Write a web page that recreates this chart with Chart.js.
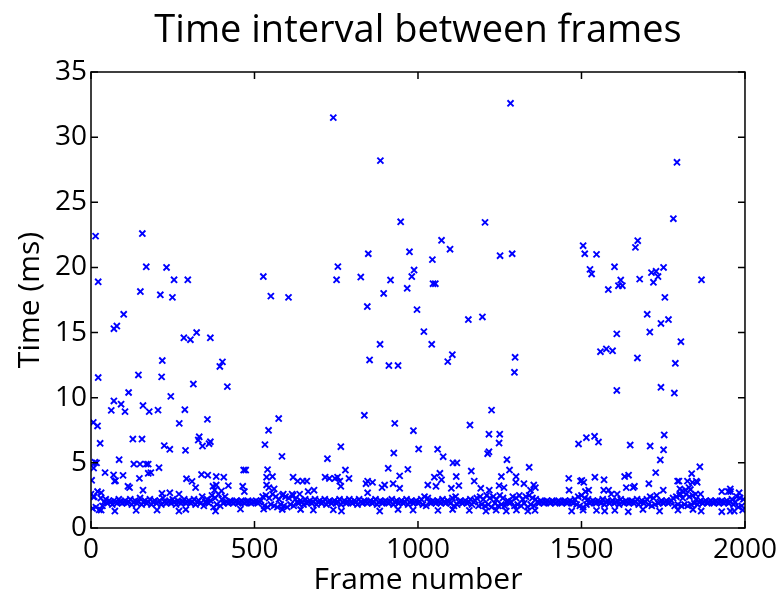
<!DOCTYPE html>
<html lang="en">
<head>
  <meta charset="UTF-8" />
  <title>Time interval between frames</title>
  <script src="https://cdn.jsdelivr.net/npm/chart.js"></script>
  <style>
    html, body { margin: 0; padding: 0; background: #fff; }
  </style>
</head>
<body>
  <canvas id="frameChart" width="782" height="598"></canvas>

  <script>
    // axis setup
    const chartTitle = 'Time interval between frames';
    const xTicks = [0, 500, 1000, 1500, 2000];
    const yTicks = [0, 5, 10, 15, 20, 25, 30, 35];

    // large spikes [frame, ms]
    const spikes = [
      [14,22.4],[157,22.6],[169,20.05],[231,20.0],[22,18.9],[254,19.05],[296,19.05],[151,18.15],[212,17.9],[249,17.7],
      [527,19.3],[550,17.8],[604,17.7],[100,16.4],[70,15.3],[79,15.5],[284,14.6],[304,14.45],[323,15.0],[365,14.6],
      [218,12.85],[402,12.75],[394,12.4],[22,11.55],[145,11.75],[216,11.6],[313,11.05],[417,10.85],[115,10.4],[244,10.1],
      [70,9.75],[92,9.5],[62,9.03],[104,8.93],[159,9.4],[178,8.93],[205,9.05],[287,9.08],[356,8.34],[7,8.1],
      [20,7.83],[270,8.03],[331,7.0],[328,6.75],[128,6.83],[156,6.83],[28,6.5],[224,6.32],[241,6.04],[289,5.96],
      [341,6.29],[365,6.62],[361,6.47],[86,5.24],[12,5.04],[17,5.0],[131,4.91],[150,4.9],[169,4.9],[175,4.9],
      [208,4.63],[8,4.6],[43,4.25],[69,4.07],[98,4.04],[72,3.6],[2,3.66],[148,3.81],[175,4.2],[183,4.25],
      [292,3.78],[309,3.58],[338,4.1],[357,4.05],[383,3.95],[406,3.9],[467,4.45],[473,4.45],[540,4.48],[537,3.9],
      [555,3.95],[532,6.4],[543,7.5],[574,8.4],[584,5.5],[618,3.9],[632,3.6],[75,3.63],
      [1283,32.6],[741,31.5],[885,28.2],[947,23.5],[1205,23.46],[1072,22.08],[1098,21.4],[848,21.05],[974,21.2],[1251,20.9],
      [1288,21.05],[1044,20.6],[755,20.06],[751,19.05],[825,19.26],[916,19.03],[988,19.8],[981,19.3],[895,18.0],[967,18.4],
      [1046,18.75],[1053,18.75],[845,17.0],[997,16.76],[1154,16.0],[1197,16.2],[1018,15.07],[884,14.1],[1042,14.1],[1105,13.3],
      [1091,12.77],[852,12.9],[911,12.47],[939,12.47],[1297,13.1],[1295,11.95],[836,8.65],[929,8.03],[986,7.47],[1225,9.05],
      [1159,7.9],[1217,7.2],[1250,7.2],[1248,6.52],[764,6.24],[1002,6.06],[1060,6.04],[1077,5.47],[926,5.75],[1213,5.7],
      [1217,5.85],[723,5.32],[1107,5.0],[1119,5.0],[1272,5.24],[909,4.58],[969,4.5],[778,4.45],[1163,4.37],[1280,4.45],
      [1340,4.66],[944,4.0],[1067,4.2],[1072,3.7],[1050,3.9],[1117,3.95],[716,3.9],[746,3.8],[754,3.9],[648,3.6],
      [660,3.6],[1255,3.95],[1300,3.95],
      [1792,28.07],[1781,23.74],[1505,21.67],[1510,21.05],[1546,21.0],[1672,22.05],[1665,21.54],[1601,20.05],[1526,19.85],[1531,19.5],
      [1751,20.0],[1714,19.6],[1728,19.7],[1734,19.3],[1720,18.86],[1678,19.1],[1620,19.03],[1867,19.05],[1582,18.3],[1613,18.6],
      [1625,18.6],[1755,17.7],[1701,16.4],[1766,16.0],[1743,15.7],[1709,15.04],[1608,14.9],[1804,14.3],[1558,13.53],[1576,13.74],
      [1595,13.6],[1671,13.05],[1787,12.64],[1608,10.56],[1743,10.8],[1784,10.36],[1753,7.14],[1491,6.45],[1515,6.93],[1540,7.04],
      [1552,6.6],[1649,6.37],[1710,6.29],[1751,6.0],[1741,5.22],[1727,4.25],[1862,4.7],[1837,4.17],[1632,3.95],[1644,4.05],
      [1461,3.81],[1541,3.9],[1569,3.7],[1501,3.65],[1794,3.6],[1824,3.6],[1851,3.6]
    ];

    // scatter just above / below the main band [frame, ms]
    const nearBand = [
      [113,3.2],[118,3.1],[159,2.9],[217,2.65],[241,2.7],[269,2.6],[320,3.1],[373,3.2],[378,2.9],[383,3.3],
      [399,2.85],[420,3.25],[464,3.2],[469,2.8],[537,3.3],[544,3.1],[560,3.0],[588,2.6],[618,2.5],[638,2.6],
      [31,2.7],[7,2.4],[729,3.8],[761,3.6],[764,3.2],[789,3.8],[846,3.6],[841,3.4],[861,3.5],[898,3.3],
      [890,3.1],[924,3.4],[944,3.05],[1030,3.3],[1055,3.2],[1102,3.05],[1125,3.25],[1172,3.6],[1192,3.05],[1218,2.9],
      [1248,3.25],[1263,3.1],[1299,3.5],[1324,3.4],[682,2.9],[846,2.7],[664,2.8],[1462,2.9],[1497,3.6],[1507,3.5],
      [1512,2.8],[1522,2.9],[1583,2.9],[1609,2.6],[1637,3.1],[1662,3.2],[1706,3.4],[1750,2.9],[1798,3.6],[1803,2.6],
      [1818,2.9],[1829,3.1],[1839,3.5],[1854,3.5],[1864,2.6],[1354,3.3],[1359,3.1],[1344,2.9],[1956,2.8],[1982,2.7],
      [1929,2.8],[1955,3.0],[1949,2.8],[1801,3.0],[1808,2.85],[1833,2.95],[1849,2.6],[1568,2.9],[1591,2.6],[1658,3.1],
      [31,1.38],[73,1.3],[138,1.35],[202,1.38],[269,1.3],[290,1.42],[381,1.3],[457,1.45],[528,1.45],[585,1.42],
      [641,1.42],[680,1.38],[741,1.4],[766,1.3],[883,1.3],[939,1.42],[985,1.38],[1061,1.35],[1106,1.42],[1157,1.35],
      [1208,1.3],[1239,1.38],[1270,1.3],[1301,1.38],[1336,1.3],[1358,1.35],[1470,1.3],[1505,1.38],[1546,1.35],[1571,1.3],
      [1602,1.35],[1643,1.25],[1688,1.42],[1739,1.3],[1795,1.38],[1841,1.42],[1866,1.3],[1929,1.25],[1955,1.3],[1967,1.3],
      [1993,1.38]
    ];

    // main band, one value every 5th frame starting at frame 0
    const bandStep = 5;
    const bandTimes = [
      2.6,1.5,2.4,1.6,2.8,1.4,2.3,1.7,2.0,2.2, 1.9,2.1,2.0,1.8,2.1,2.0,1.9,2.2,2.0,1.9,
      2.0,2.1,1.9,2.0,2.2,1.8,2.0,2.1,1.9,2.0, 2.3,1.8,2.0,2.1,1.9,2.0,2.2,1.8,2.0,2.1,
      1.9,2.0,2.1,1.8,2.3,2.0,1.9,2.0,2.1,1.9, 2.2,2.0,1.8,2.1,2.0,1.9,2.0,2.2,1.9,2.0,
      2.1,1.9,2.0,2.2,1.8,2.0,2.1,1.9,2.4,1.7, 2.0,2.2,1.9,2.1,2.5,1.6,2.3,1.8,2.6,1.7,
      2.2,1.9,2.4,2.0,1.9,2.1,2.0,1.9,2.0,2.1, 1.9,2.0,2.1,2.0,1.9,2.0,2.1,2.0,1.9,2.0,
      2.0,2.1,1.9,2.0,2.1,2.4,1.7,2.5,1.6,2.3, 1.8,2.6,1.7,2.4,1.6,2.2,1.8,2.5,1.7,2.4,
      1.6,2.3,1.8,2.6,1.7,2.2,2.0,1.9,2.1,2.0, 1.8,2.2,1.9,2.0,2.1,1.9,2.0,2.2,1.8,2.0,
      2.1,1.9,2.0,2.2,1.8,2.0,2.1,1.9,2.0,2.1, 1.9,2.0,2.2,1.8,2.0,2.1,1.9,2.0,2.2,2.0,
      1.9,2.1,2.0,1.8,2.2,2.0,1.9,2.1,2.0,1.9, 2.0,2.1,1.9,2.0,2.2,1.8,2.0,2.1,1.9,2.0,
      2.1,2.0,1.9,2.0,2.2,1.8,2.0,2.1,1.9,2.0, 2.1,1.9,2.0,2.2,1.8,2.0,2.1,1.9,2.0,2.1,
      1.9,2.0,2.2,1.8,2.4,1.7,2.3,2.0,1.9,2.1, 2.0,1.9,2.1,2.0,1.9,2.2,2.0,1.9,2.1,2.0,
      1.9,2.3,1.7,2.4,1.8,2.0,2.1,1.9,2.0,2.1, 1.9,2.0,2.2,1.8,2.0,2.1,2.3,1.7,2.4,1.8,
      2.2,1.7,2.5,1.8,2.3,1.6,2.4,1.9,2.2,1.7, 2.5,1.8,2.3,1.7,2.0,2.1,1.9,2.0,2.4,1.7,
      2.3,1.8,2.5,1.7,2.2,1.9,2.4,1.6,2.5,1.8, 2.3,1.7,2.2,2.0,1.9,2.1,2.0,1.9,2.0,2.1,
      2.0,1.9,2.1,2.0,1.9,2.0,2.1,2.0,1.9,2.0, 2.1,1.9,2.0,2.1,2.0,1.9,2.2,1.8,2.4,1.7,
      2.5,1.6,2.3,1.8,2.2,1.9,2.0,2.1,2.0,1.9, 2.1,2.0,1.9,2.2,1.8,2.0,2.1,1.9,2.0,2.1,
      1.9,2.0,2.1,1.8,2.2,2.0,1.9,2.1,2.0,1.9, 2.0,2.1,1.9,2.0,2.2,1.8,2.0,2.1,1.9,2.0,
      2.2,1.8,2.4,1.7,2.3,1.8,2.5,1.9,2.0,2.1, 1.9,2.0,2.1,1.9,2.0,2.1,2.3,1.7,2.4,1.8,
      2.5,1.7,2.3,1.8,2.6,1.7,2.4,1.8,2.5,1.9, 2.2,1.8,2.0,2.1,1.9,2.0,2.1,1.9,2.0,2.1,
      2.0,1.9,2.1,2.0,1.9,2.0,2.1,1.9,2.0,2.1, 1.9,2.0,2.2,1.8,2.0,2.4,1.6,2.3,1.7,2.2
    ];

    const FONT = 'Open Sans';
    const BLUE = '#0000ff';

    function toPoints(pairs) {
      return pairs.map(p => ({ x: p[0], y: p[1] }));
    }
    const bandPoints = bandTimes.map((t, i) => ({ x: i * bandStep, y: t }));

    function markerSet(points) {
      return {
        data: points,
        pointStyle: 'crossRot',
        pointRadius: 4.3,
        borderColor: BLUE,
        backgroundColor: BLUE,
        pointBorderWidth: 1.9,
        showLine: false
      };
    }

    // matlab style box with inward ticks + title centred on the axes
    const axesBox = {
      id: 'axesBox',
      afterDraw(chart) {
        const { ctx, chartArea: a, scales } = chart;
        const len = 7;
        ctx.save();
        ctx.strokeStyle = '#000';
        ctx.lineWidth = 1.5;
        ctx.strokeRect(a.left, a.top, a.right - a.left, a.bottom - a.top);
        ctx.beginPath();
        xTicks.forEach(v => {
          const px = scales.x.getPixelForValue(v);
          ctx.moveTo(px, a.bottom); ctx.lineTo(px, a.bottom - len);
          ctx.moveTo(px, a.top); ctx.lineTo(px, a.top + len);
        });
        yTicks.forEach(v => {
          const py = scales.y.getPixelForValue(v);
          ctx.moveTo(a.left, py); ctx.lineTo(a.left + len, py);
          ctx.moveTo(a.right, py); ctx.lineTo(a.right - len, py);
        });
        ctx.stroke();

        ctx.fillStyle = '#000';
        ctx.font = '38px "' + FONT + '"';
        ctx.textAlign = 'center';
        ctx.textBaseline = 'middle';
        ctx.fillText(chartTitle, (a.left + a.right) / 2, 31);
        ctx.restore();
      }
    };

    const tickFont = { family: FONT, size: 28 };
    const labelFont = { family: FONT, size: 30 };

    new Chart(document.getElementById('frameChart').getContext('2d'), {
      type: 'scatter',
      data: {
        datasets: [markerSet(bandPoints), markerSet(toPoints(nearBand)), markerSet(toPoints(spikes))]
      },
      options: {
        responsive: false,
        animation: false,
        layout: { padding: { left: 0, right: 36, top: 72, bottom: 0 } },
        plugins: {
          legend: { display: false },
          tooltip: { enabled: false },
          title: { display: false }
        },
        scales: {
          x: {
            type: 'linear',
            min: 0, max: 2000,
            afterBuildTicks: s => { s.ticks = xTicks.map(v => ({ value: v })); },
            ticks: { font: tickFont, color: '#000', padding: 5, maxRotation: 0, callback: v => String(v) },
            grid: { drawOnChartArea: false, drawTicks: false },
            border: { display: false },
            title: { display: true, text: 'Frame number', color: '#000', font: labelFont, padding: { top: 0, bottom: 0 } },
            afterFit: s => { s.height = 70; }
          },
          y: {
            min: 0, max: 35,
            afterBuildTicks: s => { s.ticks = yTicks.map(v => ({ value: v })); },
            ticks: { font: tickFont, color: '#000', padding: 4, callback: v => String(v) },
            grid: { drawOnChartArea: false, drawTicks: false },
            border: { display: false },
            title: { display: true, text: 'Time (ms)', color: '#000', font: labelFont, padding: { top: 12, bottom: 0 } },
            afterFit: s => { s.width = 91; }
          }
        }
      },
      plugins: [axesBox]
    });
  </script>
</body>
</html>
